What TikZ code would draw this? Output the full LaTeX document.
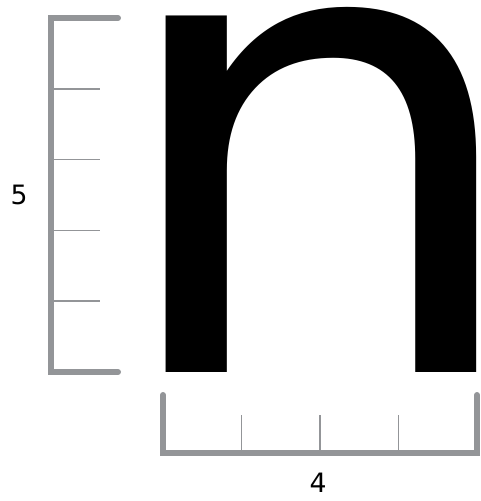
\documentclass[tikz,border=0pt]{standalone}
\usepackage{fontspec}
\newfontfamily\glyphfont{DejaVu Sans}
\newfontfamily\numfont{DejaVu Sans}
\usetikzlibrary{positioning}
\definecolor{rulergray}{RGB}{147,149,152}
\tikzset{
  rulerbar/.style={draw=rulergray,line width=4.5pt,line cap=round,line join=miter},
  rulertick/.style={draw=rulergray,line width=1.1pt},
  numlabel/.style={font=\numfont\fontsize{20}{20}\selectfont,inner sep=0pt},
}

\begin{document}
\begin{tikzpicture}[x=0.75pt,y=-0.75pt]
  \useasboundingbox (0,0) rectangle (481,501);
  % the letter
  \node[anchor=base west,inner sep=0pt,font=\glyphfont\fontsize{489}{489}\selectfont] (letter) at (104.5,372) {\scalebox{1.04}[1]{n}};

  % height ruler
  \coordinate (htop) at (51,18);
  \coordinate (hbot) at (51,372);
  \draw[rulerbar] (118,18) -- (htop) -- (hbot) -- (118,372);
  \foreach \y in {88.8,159.6,230.4,301.2}
    \draw[rulertick] (51,\y) -- (100,\y);
  \node[numlabel] (hlabel) at (19,195) {5};

  % width ruler
  \coordinate (wleft) at (163,453);
  \coordinate (wright) at (477,453);
  \draw[rulerbar] (163,395) -- (wleft) -- (wright) -- (477,395);
  \foreach \x in {241.5,320,398.5}
    \draw[rulertick] (\x,415) -- (\x,453);
  \node[numlabel] (wlabel) at (318,483) {4};
\end{tikzpicture}
\end{document}
